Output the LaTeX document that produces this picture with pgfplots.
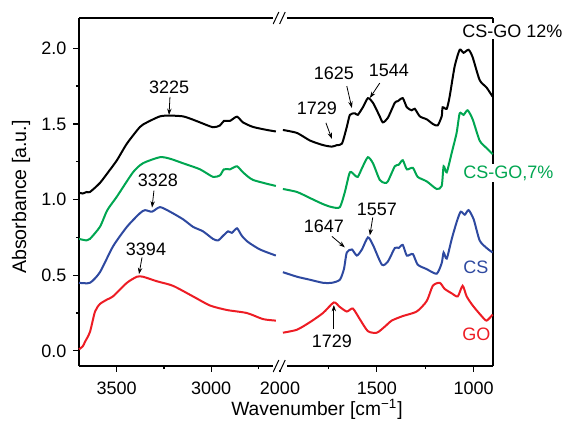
\documentclass[border=0pt]{standalone}
\usepackage{fontspec}
\setmainfont{Liberation Sans}
\usepackage{pgfplots}
\pgfplotsset{compat=1.18}
\usetikzlibrary{arrows.meta}

\definecolor{cgreen}{RGB}{0,166,81}
\definecolor{cblue}{RGB}{46,73,160}
\definecolor{cred}{RGB}{237,28,36}

\pgfplotsset{
  ftir/.style={
    scale only axis,
    height=174pt,
    ymin=-0.1, ymax=2.2,
    x dir=reverse,
    axis line style={-, line width=0.7pt},
    tick align=outside,
    major tick length=2.8pt,
    minor tick length=1.6pt,
    tick style={line width=0.6pt, black},
    ticklabel style={font=\fontsize{9}{10}\selectfont},
    xticklabel style={yshift=-1.5pt, /pgf/number format/set thousands separator={}},
    /pgf/number format/assume math mode=true,
    clip=false,
    every axis plot/.append style={line width=1pt, smooth, tension=0.4},
  },
}
\tikzset{
  note/.style={font=\fontsize{9}{10}\selectfont},
  arr/.style={-{Stealth[length=3.2pt,width=2.2pt]}, line width=0.4pt},
}

\begin{document}
\begin{tikzpicture}
\path[use as bounding box] (0,0) rectangle (283pt,214pt);

% left part: 3700 - 2635
\begin{axis}[ftir, name=L,
  at={(39.5pt,31pt)}, anchor=south west,
  width=100.5pt,
  xmin=2635, xmax=3700,
  axis x line*=bottom, axis y line*=left,
  xtick={3500,3000}, minor xtick={3250,2750},
  ytick={0,0.5,1,1.5,2}, minor ytick={0.25,0.75,1.25,1.75},
  yticklabel style={/pgf/number format/.cd, fixed, fixed zerofill, precision=1},
]
% CS-GO 12%
\addplot[black] coordinates {
(3700,1.046) (3680,1.04) (3660,1.05) (3642,1.05) (3589,1.11) (3540,1.19)
(3499,1.26) (3446,1.37) (3377,1.48) (3340,1.51) (3271,1.55) (3218,1.555)
(3149,1.55) (3100,1.53) (3059,1.51) (2990,1.478) (2953,1.49) (2932,1.52)
(2900,1.52) (2863,1.548) (2831,1.51) (2778,1.48) (2704,1.46) (2657,1.45)};
% CS-GO 7%
\addplot[cgreen] coordinates {
(3700,0.74) (3660,0.73) (3642,0.74) (3589,0.82) (3550,0.93) (3499,1.02)
(3414,1.18) (3361,1.24) (3271,1.28) (3218,1.27) (3149,1.24) (3059,1.20)
(2990,1.15) (2953,1.16) (2932,1.20) (2900,1.20) (2863,1.22) (2831,1.18)
(2778,1.13) (2657,1.09)};
% CS
\addplot[cblue] coordinates {
(3700,0.45) (3642,0.45) (3589,0.52) (3520,0.69) (3446,0.82) (3377,0.91)
(3350,0.93) (3313,0.92) (3271,0.95) (3218,0.92) (3149,0.87) (3096,0.82)
(3043,0.79) (2990,0.74) (2963,0.73) (2937,0.76) (2910,0.79) (2890,0.78)
(2863,0.81) (2837,0.76) (2805,0.72) (2741,0.67) (2657,0.63)};
% GO
\addplot[cred] coordinates {
(3700,0.01) (3680,0.03) (3668,0.06) (3642,0.125) (3615,0.26) (3589,0.31)
(3550,0.34) (3520,0.36) (3446,0.45) (3393,0.49) (3361,0.49) (3287,0.46)
(3202,0.43) (3096,0.36) (3006,0.30) (2916,0.27) (2810,0.25) (2725,0.21)
(2657,0.20)};

\node[note] at (axis cs:3223,1.743) {3225};
\draw[arr] (axis cs:3218,1.678) -- (axis cs:3223,1.559);
\node[note] at (axis cs:3282,1.125) {3328};
\draw[arr] (axis cs:3303,1.059) -- (axis cs:3313,0.947);
\node[note] at (axis cs:3345,0.671) {3394};
\draw[arr] (axis cs:3366,0.618) -- (axis cs:3382,0.507);
\end{axis}

% right part: 2000 - 900
\begin{axis}[ftir, name=R,
  at={(140pt,31pt)}, anchor=south west,
  width=106.5pt,
  xmin=900, xmax=2000,
  axis x line*=bottom, axis y line*=right,
  ytick=\empty,
  xtick={2000,1500,1000}, minor xtick={1750,1250},
]
\addplot[black] coordinates {
(1985,1.46) (1912,1.44) (1845,1.39) (1778,1.36) (1732,1.35) (1706,1.36)
(1680,1.37) (1655,1.48) (1639,1.56) (1613,1.57) (1598,1.56) (1572,1.61)
(1546,1.67) (1520,1.64) (1485,1.55) (1469,1.51) (1443,1.54) (1407,1.64)
(1392,1.65) (1366,1.67) (1345,1.61) (1320,1.59) (1304,1.60) (1278,1.55)
(1242,1.53) (1211,1.50) (1186,1.49) (1165,1.55) (1160,1.61) (1139,1.60)
(1124,1.68) (1098,1.88) (1072,1.99) (1052,1.97) (1026,1.99) (1005,1.94)
(969,1.79) (933,1.74) (902,1.68)};
\addplot[cgreen] coordinates {
(1985,1.07) (1912,1.05) (1845,1.01) (1778,0.97) (1732,0.95) (1691,0.95)
(1665,1.05) (1639,1.18) (1613,1.16) (1598,1.15) (1572,1.22) (1546,1.28)
(1520,1.24) (1485,1.13) (1459,1.11) (1443,1.12) (1407,1.22) (1387,1.23)
(1366,1.26) (1345,1.20) (1314,1.21) (1289,1.15) (1242,1.12) (1191,1.07)
(1165,1.09) (1155,1.22) (1139,1.18) (1113,1.31) (1088,1.44) (1072,1.57)
(1052,1.56) (1031,1.59) (1005,1.53) (969,1.39) (933,1.34) (902,1.30)};
\addplot[cblue] coordinates {
(1985,0.52) (1912,0.49) (1845,0.47) (1778,0.45) (1732,0.45) (1691,0.47)
(1670,0.54) (1655,0.65) (1629,0.67) (1603,0.63) (1577,0.67) (1546,0.75)
(1520,0.70) (1474,0.57) (1443,0.59) (1407,0.68) (1387,0.68) (1366,0.70)
(1345,0.63) (1314,0.64) (1289,0.57) (1242,0.54) (1191,0.51) (1165,0.58)
(1155,0.65) (1139,0.61) (1113,0.74) (1088,0.85) (1067,0.92) (1046,0.90)
(1026,0.93) (1000,0.87) (969,0.73) (933,0.68) (902,0.65)};
\addplot[cred] coordinates {
(1985,0.12) (1912,0.14) (1845,0.19) (1778,0.25) (1722,0.32) (1691,0.29)
(1655,0.26) (1624,0.28) (1588,0.21) (1546,0.13) (1500,0.12) (1459,0.16)
(1423,0.20) (1366,0.23) (1294,0.26) (1242,0.33) (1211,0.43) (1175,0.45)
(1150,0.41) (1113,0.38) (1082,0.36) (1057,0.43) (1036,0.36) (1005,0.30)
(959,0.23) (933,0.20) (902,0.24)};

\node[note] at (axis cs:1809,1.605) {1729};
\draw[arr] (axis cs:1763,1.507) -- (axis cs:1732,1.401);
\node[note] at (axis cs:1722,1.836) {1625};
\draw[arr] (axis cs:1655,1.75) -- (axis cs:1629,1.605);
\node[note] at (axis cs:1438,1.855) {1544};
\draw[arr] (axis cs:1485,1.77) -- (axis cs:1536,1.671);
\node[note] at (axis cs:1773,0.822) {1647};
\draw[arr] (axis cs:1732,0.757) -- (axis cs:1665,0.684);
\node[note] at (axis cs:1500,0.934) {1557};
\draw[arr] (axis cs:1521,0.882) -- (axis cs:1536,0.763);
\node[note] at (axis cs:1732,0.066) {1729};
\draw[arr] (axis cs:1722,0.145) -- (axis cs:1722,0.303);
\end{axis}

% top frame line with break
\draw[line width=0.7pt] (39.5pt,205pt) -- (136.5pt,205pt);
\draw[line width=0.7pt] (143.5pt,205pt) -- (246.5pt,205pt);
% bottom break
\fill[white] (136.5pt,29pt) rectangle (143.5pt,33pt);
\foreach \yy in {31pt,205pt} {
  \draw[line width=0.5pt] (136.6pt,\yy-3pt) -- (139.4pt,\yy+3pt);
  \draw[line width=0.5pt] (139.8pt,\yy-3pt) -- (142.6pt,\yy+3pt);
}

% axis titles
\node[font=\fontsize{9.6}{11}\selectfont] at (158.5pt,9.5pt) {Wavenumber [cm\textsuperscript{−1}]};
\node[font=\fontsize{9.8}{11}\selectfont, rotate=90] at (10.5pt,115.5pt) {Absorbance [a.u.]};

% series names
\node[note, anchor=west, fill=white, inner sep=0.6pt] at (230.4pt,198.5pt) {CS-GO 12\%};
\node[note, anchor=west, fill=white, inner sep=0.6pt, text=cgreen] at (230.9pt,127.5pt) {CS-GO,7\%};
\node[note, anchor=west, inner sep=0.6pt, text=cblue] at (230.9pt,80.5pt) {CS};
\node[note, anchor=west, inner sep=0.6pt, text=cred] at (230.4pt,47pt) {GO};
\end{tikzpicture}
\end{document}
